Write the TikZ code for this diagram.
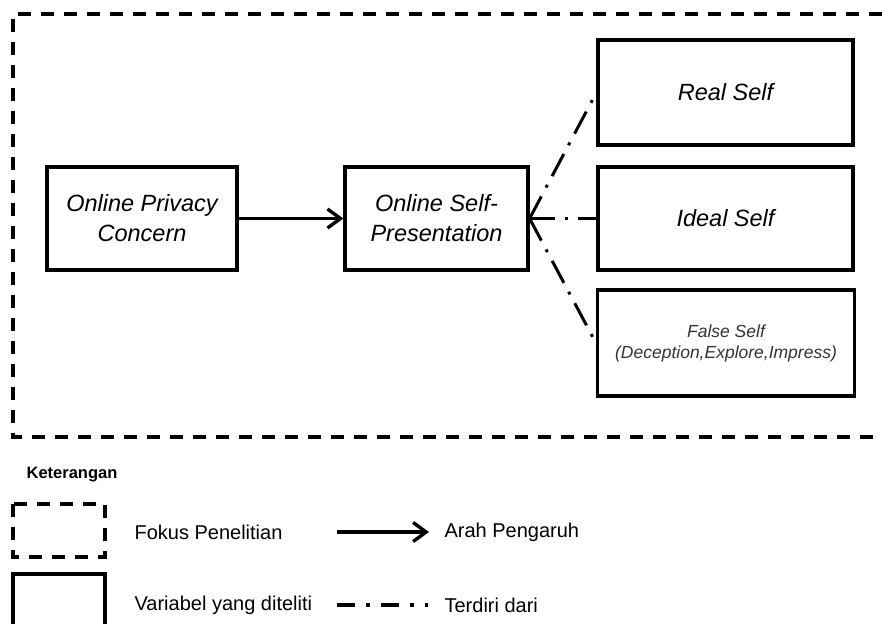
\documentclass[tikz,border=0pt]{standalone}
\usepackage{fontspec}
\setmainfont{Liberation Sans}
\usetikzlibrary{arrows.meta}
\tikzset{every path/.style={line width=3.2pt}}
\tikzset{
  varbox/.style={draw,line width=3.2pt,inner sep=0pt,align=center,
    font=\fontsize{23.5}{30}\selectfont\itshape},
  fokus/.style={line width=3.2pt,dash pattern=on 13pt off 10pt},
  terdiri/.style={line width=3.2pt,dash pattern=on 18pt off 11pt on 4pt off 11pt},
  bagian/.style={line width=3pt,dash pattern=on 25pt off 10pt on 3pt off 10pt},
  pengaruh/.style={line width=3.4pt,-{Straight Barb[length=13pt,width=19pt]}},
  legtext/.style={anchor=west,inner sep=0pt,font=\fontsize{20}{24}\selectfont}
}

\begin{document}
\begin{tikzpicture}[x=1pt,y=-1pt]
\useasboundingbox (0,0) rectangle (882,623);

% focus frame (open to the right)
\draw[fokus] (882,14) -- (13,14) -- (13,437) -- (882,437);

\node[varbox,minimum width=190pt,minimum height=103pt] (privacy) at (142,218.5) {Online Privacy\\Concern};
\node[varbox,minimum width=183pt,minimum height=103pt] (present) at (436.5,218.5) {Online Self-\\Presentation};
\node[varbox,minimum width=255pt,minimum height=105pt] (real) at (725.5,92.5) {Real Self};
\node[varbox,minimum width=255pt,minimum height=103pt] (ideal) at (725.5,218.5) {Ideal Self};
\node[varbox,minimum width=257pt,minimum height=106pt,text=black!80,
  font=\fontsize{17.5}{21}\selectfont\itshape] (false) at (726,343) {False Self\\(Deception,Explore,Impress)};

\draw[pengaruh] (privacy.east) -- (present.west);
\draw[bagian] (present.east) -- (real.west);
\draw[bagian] (present.east) -- (ideal.west);
\draw[bagian] (present.east) -- (false.west);

% keterangan
\node[anchor=west,inner sep=0pt,font=\fontsize{16.5}{20}\selectfont\bfseries] (ket) at (25,475) {Keterangan};
\draw[fokus] (13,504) rectangle (105,557);
\draw (13,640) -- (13,574) -- (105,574) -- (105,640);
\node[legtext] (fokusT) at (133,532) {Fokus Penelitian};
\node[legtext] (varT) at (133,605) {Variabel yang diteliti};
\node[legtext] (arahT) at (443,532) {Arah Pengaruh};
\node[legtext] (terT) at (443,605) {Terdiri dari};
\coordinate (arahA) at (337,532);
\coordinate (arahB) at (429,532);
\coordinate (terA) at (337,605);
\coordinate (terB) at (428,605);
\draw[pengaruh] (arahA) -- (arahB);
\draw[terdiri] (terA) -- (terB);
\end{tikzpicture}
\end{document}
